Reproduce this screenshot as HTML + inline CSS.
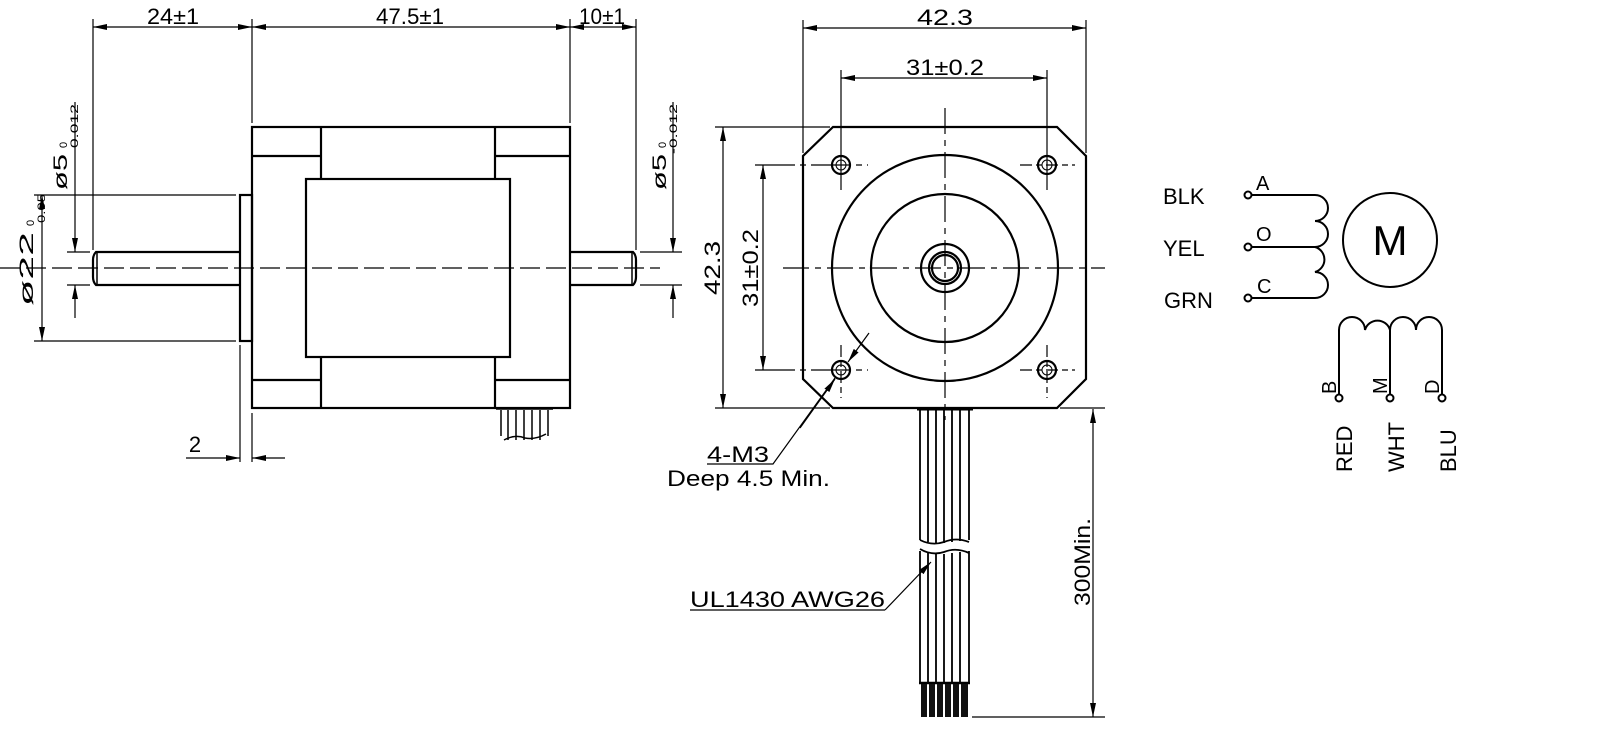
<!DOCTYPE html>
<html><head><meta charset="utf-8"><style>
html,body{margin:0;padding:0;background:#fff;}
svg{display:block;}
text{font-family:"Liberation Sans",sans-serif;fill:#000;}
</style></head><body>
<svg width="1617" height="746" viewBox="0 0 1617 746" xmlns="http://www.w3.org/2000/svg">
<defs>
<marker id="ar" viewBox="0 0 14 6" refX="14" refY="3" markerWidth="14" markerHeight="6" orient="auto" markerUnits="userSpaceOnUse">
<path d="M0,0 L14,3 L0,6 z" fill="#000"/></marker>
</defs>
<g stroke="#000" fill="none">
<g stroke-width="1.2">
<line x1="93" y1="19" x2="93" y2="250"/>
<line x1="252" y1="19" x2="252" y2="123"/>
<line x1="570" y1="19" x2="570" y2="123"/>
<line x1="636" y1="19" x2="636" y2="250"/>
<line x1="173" y1="27" x2="93" y2="27" marker-end="url(#ar)"/>
<line x1="173" y1="27" x2="252" y2="27" marker-end="url(#ar)"/>
<line x1="410" y1="27" x2="252" y2="27" marker-end="url(#ar)"/>
<line x1="410" y1="27" x2="570" y2="27" marker-end="url(#ar)"/>
<line x1="603" y1="27" x2="570" y2="27" marker-end="url(#ar)"/>
<line x1="603" y1="27" x2="636" y2="27" marker-end="url(#ar)"/>
<line x1="34" y1="195" x2="236" y2="195"/>
<line x1="34" y1="341" x2="236" y2="341"/>
<line x1="42" y1="268" x2="42" y2="195" marker-end="url(#ar)"/>
<line x1="42" y1="268" x2="42" y2="341" marker-end="url(#ar)"/>
<line x1="67" y1="252" x2="90" y2="252"/>
<line x1="67" y1="285" x2="90" y2="285"/>
<line x1="75" y1="102" x2="75" y2="252" marker-end="url(#ar)"/>
<line x1="75" y1="318" x2="75" y2="285" marker-end="url(#ar)"/>
<line x1="640" y1="252" x2="682" y2="252"/>
<line x1="640" y1="285" x2="682" y2="285"/>
<line x1="673" y1="102" x2="673" y2="252" marker-end="url(#ar)"/>
<line x1="673" y1="318" x2="673" y2="285" marker-end="url(#ar)"/>
<line x1="240" y1="345" x2="240" y2="462"/>
<line x1="252" y1="413" x2="252" y2="462"/>
<line x1="186" y1="458" x2="240" y2="458" marker-end="url(#ar)"/>
<line x1="285" y1="458" x2="252" y2="458" marker-end="url(#ar)"/>
<line x1="0" y1="268" x2="660" y2="268" stroke-dasharray="20,6"/>
</g>
<g stroke-width="2.2">
<rect x="252" y="127" width="318" height="281"/>
<line x1="252" y1="156" x2="321" y2="156"/><line x1="495" y1="156" x2="570" y2="156"/>
<line x1="252" y1="380" x2="321" y2="380"/><line x1="495" y1="380" x2="570" y2="380"/>
<line x1="321" y1="127" x2="321" y2="179"/><line x1="495" y1="127" x2="495" y2="179"/>
<line x1="321" y1="357" x2="321" y2="408"/><line x1="495" y1="357" x2="495" y2="408"/>
<rect x="306" y="179" width="204" height="178"/>
<rect x="240" y="195" width="12" height="146"/>
<path d="M240,252 L96,252 Q93,255 93,260 L93,277 Q93,282 96,285 L240,285"/>
<line x1="97" y1="253" x2="97" y2="284" stroke-width="1.5"/>
<path d="M570,252 L633,252 Q636,255 636,260 L636,277 Q636,282 633,285 L570,285"/>
<line x1="632" y1="253" x2="632" y2="284" stroke-width="1.5"/>
</g>
<g stroke-width="1.5">
<line x1="501" y1="410" x2="501" y2="436"/><line x1="508" y1="410" x2="508" y2="440"/>
<line x1="516" y1="410" x2="516" y2="440"/><line x1="524" y1="410" x2="524" y2="440"/>
<line x1="532" y1="410" x2="532" y2="440"/><line x1="540" y1="410" x2="540" y2="440"/>
<line x1="548" y1="410" x2="548" y2="436"/>
<path d="M504,440 Q515,434 525,438 Q535,440 546,434"/>
<line x1="496" y1="409" x2="553" y2="409"/>
</g>

<g stroke-width="1.2">
<line x1="803" y1="20" x2="803" y2="153"/>
<line x1="1086" y1="20" x2="1086" y2="153"/>
<line x1="945" y1="28" x2="803" y2="28" marker-end="url(#ar)"/>
<line x1="945" y1="28" x2="1086" y2="28" marker-end="url(#ar)"/>
<line x1="841" y1="70" x2="841" y2="190"/>
<line x1="1047" y1="70" x2="1047" y2="190"/>
<line x1="945" y1="78" x2="841" y2="78" marker-end="url(#ar)"/>
<line x1="945" y1="78" x2="1047" y2="78" marker-end="url(#ar)"/>
<line x1="715" y1="127" x2="830" y2="127"/>
<line x1="715" y1="408" x2="830" y2="408"/>
<line x1="723" y1="268" x2="723" y2="127" marker-end="url(#ar)"/>
<line x1="723" y1="268" x2="723" y2="408" marker-end="url(#ar)"/>
<line x1="755" y1="165" x2="868" y2="165" stroke-dasharray="40,5,6,5"/>
<line x1="755" y1="370" x2="868" y2="370" stroke-dasharray="40,5,6,5"/>
<line x1="763" y1="268" x2="763" y2="165" marker-end="url(#ar)"/>
<line x1="763" y1="268" x2="763" y2="370" marker-end="url(#ar)"/>
<line x1="1020" y1="165" x2="1075" y2="165" stroke-dasharray="12,4,6,4"/>
<line x1="1020" y1="370" x2="1075" y2="370" stroke-dasharray="12,4,6,4"/>
<line x1="841" y1="345" x2="841" y2="398" stroke-dasharray="12,4,6,4"/>
<line x1="1047" y1="345" x2="1047" y2="398" stroke-dasharray="12,4,6,4"/>
<line x1="783" y1="268" x2="1105" y2="268" stroke-dasharray="26,6,6,6"/>
<line x1="945" y1="108" x2="945" y2="420" stroke-dasharray="26,6,6,6"/>
<line x1="1060" y1="408" x2="1105" y2="408"/>
<line x1="972" y1="717" x2="1105" y2="717"/>
<line x1="1093" y1="562" x2="1093" y2="409" marker-end="url(#ar)"/>
<line x1="1093" y1="562" x2="1093" y2="717" marker-end="url(#ar)"/>
<polyline points="707,464 773,464 835,378"/>
<line x1="869" y1="333" x2="848" y2="362" marker-end="url(#ar)"/>
<line x1="800" y1="428" x2="835" y2="379" marker-end="url(#ar)"/>
<polyline points="690,610 885,610"/>
<line x1="885" y1="610" x2="931" y2="562" marker-end="url(#ar)"/>
</g>
<g stroke-width="2.2">
<path d="M833,127 L1057,127 L1086,156 L1086,379 L1057,408 L833,408 L803,379 L803,156 Z"/>
<circle cx="945" cy="268" r="113"/>
<circle cx="945" cy="268" r="74"/>
<circle cx="945" cy="268" r="24"/>
<circle cx="945" cy="268" r="16"/>
<circle cx="945" cy="268" r="13"/>
<circle cx="841" cy="165" r="9"/><circle cx="1047" cy="165" r="9"/>
<circle cx="841" cy="370" r="9"/><circle cx="1047" cy="370" r="9"/>
</g>
<g stroke-width="1">
<circle cx="841" cy="165" r="5"/><circle cx="1047" cy="165" r="5"/>
<circle cx="841" cy="370" r="5"/><circle cx="1047" cy="370" r="5"/>
</g>
<g stroke-width="1.8">
<line x1="917" y1="409" x2="973" y2="409" stroke-width="3"/>
<path d="M920,410 V540 M928,410 V542 M936,410 V543 M944,410 V543 M952,410 V542 M960,410 V541 M969,410 V540"/>
<path d="M920,551 V683 M928,553 V683 M936,554 V683 M944,554 V683 M952,553 V683 M960,552 V683 M969,551 V683"/>
<path d="M920,540 Q932,546 944,542 Q956,537 969,542"/>
<path d="M920,549 Q932,556 944,552 Q956,547 969,553"/>
<line x1="919" y1="683" x2="970" y2="683" stroke-width="2.5"/>
</g>
<g fill="#111" stroke="none">
<rect x="921" y="684" width="6" height="33"/><rect x="929" y="684" width="6" height="33"/>
<rect x="937" y="684" width="6" height="33"/><rect x="945" y="684" width="6" height="33"/>
<rect x="953" y="684" width="6" height="33"/><rect x="961" y="684" width="7" height="33"/>
</g>

<g stroke-width="2">
<circle cx="1248" cy="195" r="3.5"/><circle cx="1248" cy="247" r="3.5"/><circle cx="1248" cy="298" r="3.5"/>
<line x1="1252" y1="195" x2="1315" y2="195"/>
<line x1="1252" y1="247" x2="1315" y2="247"/>
<line x1="1252" y1="298" x2="1315" y2="298"/>
<path d="M1315,195 A13,13 0 0 1 1315,221 A13,13 0 0 1 1315,247 A13,13 0 0 1 1315,272 A13,13 0 0 1 1315,298"/>
<circle cx="1390" cy="240" r="47"/>
<circle cx="1339" cy="398" r="3.5"/><circle cx="1390" cy="398" r="3.5"/><circle cx="1442" cy="398" r="3.5"/>
<line x1="1339" y1="394" x2="1339" y2="330"/>
<line x1="1390" y1="394" x2="1390" y2="330"/>
<line x1="1442" y1="394" x2="1442" y2="330"/>
<path d="M1339,330 A13,13 0 0 1 1365,330 A13,13 0 0 1 1390,330 A13,13 0 0 1 1416,330 A13,13 0 0 1 1442,330"/>
</g>
</g>

<g font-size="22">
<text x="173" y="24" text-anchor="middle" textLength="52" lengthAdjust="spacingAndGlyphs">24±1</text>
<text x="410" y="24" text-anchor="middle" textLength="68" lengthAdjust="spacingAndGlyphs">47.5±1</text>
<text x="602" y="24" text-anchor="middle" textLength="46" lengthAdjust="spacingAndGlyphs">10±1</text>
<text x="195" y="452" text-anchor="middle">2</text>
<text x="945" y="25" text-anchor="middle" textLength="56" lengthAdjust="spacingAndGlyphs">42.3</text>
<text x="945" y="75" text-anchor="middle" textLength="78" lengthAdjust="spacingAndGlyphs">31±0.2</text>
<text transform="translate(720,268) rotate(-90)" text-anchor="middle" textLength="54" lengthAdjust="spacingAndGlyphs">42.3</text>
<text transform="translate(758,268) rotate(-90)" text-anchor="middle" textLength="78" lengthAdjust="spacingAndGlyphs">31±0.2</text>
<text transform="translate(1090,562) rotate(-90)" text-anchor="middle" textLength="88" lengthAdjust="spacingAndGlyphs">300Min.</text>
<text x="707" y="462" textLength="62" lengthAdjust="spacingAndGlyphs">4-M3</text>
<text x="667" y="486" textLength="163" lengthAdjust="spacingAndGlyphs">Deep 4.5 Min.</text>
<text x="690" y="607" textLength="195" lengthAdjust="spacingAndGlyphs">UL1430  AWG26</text>
<text transform="translate(33,306) rotate(-90)" font-size="19" textLength="74" lengthAdjust="spacingAndGlyphs">ø22</text>
<text transform="translate(34,226) rotate(-90)" font-size="11">0</text>
<text transform="translate(45,228) rotate(-90)" font-size="11" textLength="34" lengthAdjust="spacingAndGlyphs">-0.05</text>
<text transform="translate(67,190) rotate(-90)" font-size="19" textLength="36" lengthAdjust="spacingAndGlyphs">ø5</text>
<text transform="translate(67,148) rotate(-90)" font-size="11">0</text>
<text transform="translate(78,154) rotate(-90)" font-size="11" textLength="50" lengthAdjust="spacingAndGlyphs">-0.012</text>
<text transform="translate(666,190) rotate(-90)" font-size="19" textLength="36" lengthAdjust="spacingAndGlyphs">ø5</text>
<text transform="translate(666,148) rotate(-90)" font-size="11">0</text>
<text transform="translate(677,154) rotate(-90)" font-size="11" textLength="50" lengthAdjust="spacingAndGlyphs">-0.012</text>
</g>
<g font-size="22">
<text x="1163" y="204">BLK</text>
<text x="1163" y="256">YEL</text>
<text x="1164" y="308">GRN</text>
<text x="1256" y="190" font-size="20">A</text>
<text x="1256" y="241" font-size="20">O</text>
<text x="1257" y="293" font-size="20">C</text>
<text x="1390" y="255" font-size="42" text-anchor="middle">M</text>
<text transform="translate(1336,394) rotate(-90)" font-size="20">B</text>
<text transform="translate(1387,394) rotate(-90)" font-size="20">M</text>
<text transform="translate(1439,394) rotate(-90)" font-size="20">D</text>
<text transform="translate(1352,472) rotate(-90)">RED</text>
<text transform="translate(1404,472) rotate(-90)">WHT</text>
<text transform="translate(1456,472) rotate(-90)">BLU</text>
</g>
</svg>
</body></html>
